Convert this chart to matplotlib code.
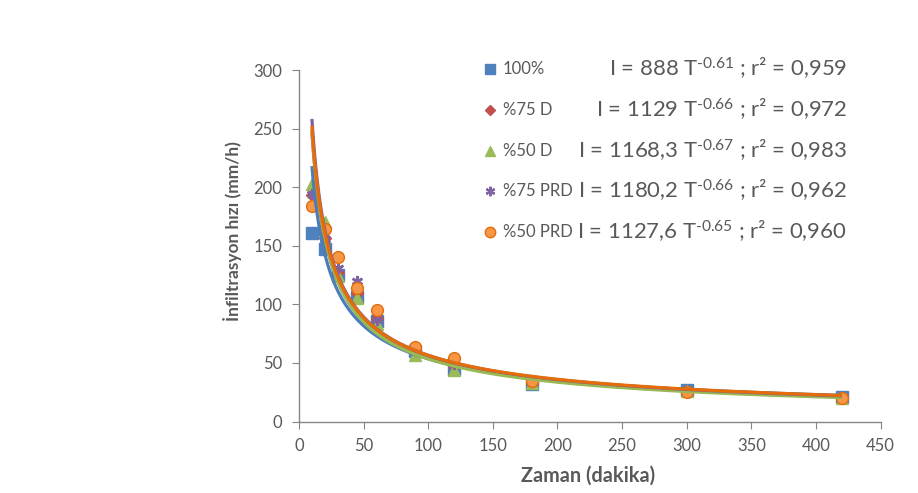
import numpy as np
import matplotlib
matplotlib.use("Agg")
import matplotlib.pyplot as plt

plt.rcParams['font.family'] = ['Lato', 'DejaVu Sans']
plt.rcParams['mathtext.fontset'] = 'custom'
plt.rcParams['mathtext.rm'] = 'Lato'
plt.rcParams['mathtext.it'] = 'Lato'

# Data
time_min = [10, 20, 30, 45, 60, 90, 120, 180, 300, 420]
series_names = ["100%", "%75 D", "%50 D", "%75 PRD", "%50 PRD"]
s100 = [161, 147, 125, 106, 86, 60, 45, 32, 27, 21]
s75d = [193, 157, 128, 110, 88, 60, 47, 33, 26, 20]
s50d = [203, 170, 124, 105, 83, 57, 44, 33, 26, 20]
s75prd = [194, 156, 131, 120, 87, 62, 49, 34, 26, 20]
s50prd = [184, 164, 140, 114, 95, 64, 54, 35, 25, 20]
coef_a = [888, 1129, 1168.3, 1180.2, 1127.6]
coef_b = [-0.61, -0.66, -0.67, -0.66, -0.65]
coef_a_txt = ["888", "1129", "1168,3", "1180,2", "1127,6"]
coef_b_txt = ["-0.61", "-0.66", "-0.67", "-0.66", "-0.65"]
r2_txt = ["0,959", "0,972", "0,983", "0,962", "0,960"]

values = [s100, s75d, s50d, s75prd, s50prd]
marker_colors = ["#4F81BD", "#C0504D", "#9BBB59", "#8064A2", "#F79646"]
edge_colors = ["#4F81BD", "#C0504D", "#9BBB59", "#8064A2", "#E46C0A"]
line_colors = ["#4A7EBB", "#BE4B48", "#98B954", "#7D60A0", "#E46C0A"]
markers = ["s", "D", "^", (6, 2, 0), "o"]
msizes = [8.5, 6, 8.5, 8, 8.5]

W, H = 918, 493
fig = plt.figure(figsize=(W / 100, H / 100), dpi=100)
ax = fig.add_axes([0.3257, 0.145, 0.9592 - 0.3257, 0.858 - 0.145])
renderer = fig.canvas.get_renderer()


def fit(t, target, dim="width"):
    fs = t.get_fontsize()
    for _ in range(3):
        bb = t.get_window_extent(renderer)
        cur = bb.width if dim == "width" else bb.height
        fs = fs * target / cur
        t.set_fontsize(fs)


gray = "#595959"
for i, vals in enumerate(values):
    kw = dict(marker=markers[i], linestyle="none", markersize=msizes[i],
              color=marker_colors[i], markeredgecolor=edge_colors[i], zorder=2 + i * 0.1)
    if i == 3:
        kw["markeredgewidth"] = 1.8
    ax.plot(time_min, vals, **kw)

tt = np.linspace(10, 420, 400)
for i in range(5):
    ax.plot(tt, coef_a[i] * tt ** coef_b[i], color=line_colors[i], lw=2.3,
            zorder=3 + i * 0.1, solid_capstyle="butt")

ax.set_xlim(0, 450)
ax.set_ylim(0, 300)
ax.set_xticks(range(0, 451, 50))
ax.set_yticks(range(0, 301, 50))
for s in ["top", "right"]:
    ax.spines[s].set_visible(False)
for s in ["left", "bottom"]:
    ax.spines[s].set_color("#868686")
    ax.spines[s].set_linewidth(1.0)
ax.tick_params(axis="both", direction="out", length=5, color="#868686",
               labelcolor=gray, labelsize=12)
ax.tick_params(axis="x", pad=7)
ax.tick_params(axis="y", pad=7)

# Overlay in pixel coordinates for titles and legend
ov = fig.add_axes([0, 0, 1, 1], facecolor="none")
ov.set_xlim(0, W)
ov.set_ylim(H, 0)
ov.axis("off")

xl = ov.text(588, 476, "Zaman (dakika)", ha="center", va="center",
             fontsize=13.5, fontweight="bold", color=gray)
fit(xl, 134)
yl = ov.text(233, 231, "İnfiltrasyon hızı (mm/h)", ha="center", va="center",
             rotation=90, fontsize=12, fontweight="bold", color=gray)
fit(yl, 180, "height")
yl.set_fontsize(min(yl.get_fontsize(), xl.get_fontsize()))

row_y = [69, 110, 151, 191, 232]
leg_ms = [7, 5.2, 7.5, 6.8, 7.5]
for i in range(5):
    kw = dict(marker=markers[i], linestyle="none", markersize=leg_ms[i],
              color=marker_colors[i], markeredgecolor=edge_colors[i], clip_on=False)
    if i == 3:
        kw["markeredgewidth"] = 1.6
    ov.plot([490], [row_y[i]], **kw)
    ov.text(503, row_y[i], series_names[i], ha="left", va="center",
            fontsize=12, color=gray)

eq_texts = []
for i in range(5):
    txt = r"I = %s T$^{\text{%s}}$ ; r² = %s" % (coef_a_txt[i], coef_b_txt[i], r2_txt[i])
    eq_texts.append(ov.text(847, row_y[i], txt, ha="right", va="center",
                            fontsize=16, color=gray))
fit(eq_texts[2], 270)
for t in eq_texts:
    t.set_fontsize(eq_texts[2].get_fontsize())

fig.savefig("out.png", dpi=100)
